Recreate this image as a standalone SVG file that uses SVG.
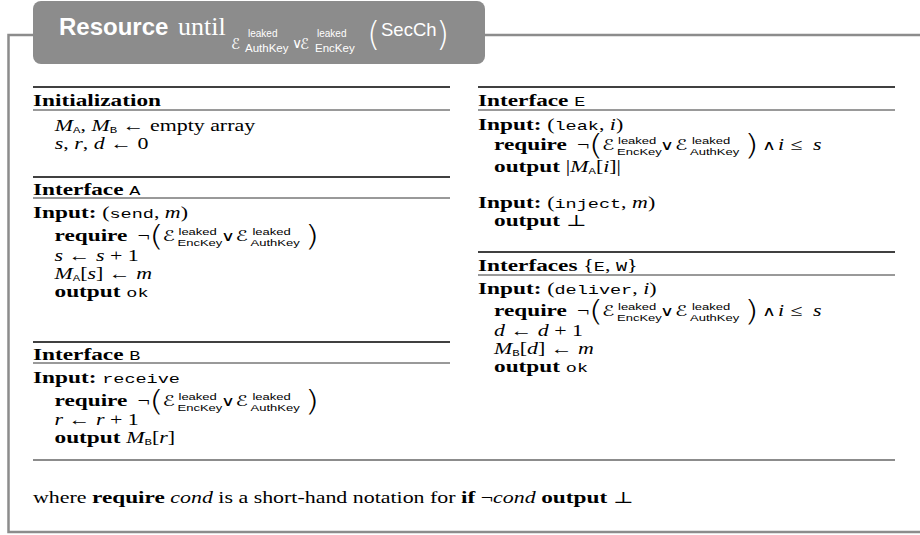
<svg xmlns="http://www.w3.org/2000/svg" width="920" height="535" viewBox="0 0 920 535">
<style>
.frame{fill:none;stroke:#8c8c8c;stroke-width:2.5}
.thick{stroke:#000;stroke-width:1.6}
.thin{stroke:#000;stroke-width:0.8}
.sep{stroke:#8c8c8c;stroke-width:2}
text{font-family:"Liberation Serif","DejaVu Serif",serif;font-size:16px;fill:#000}
.bf{font-weight:bold;font-size:17px}
.hd{font-weight:bold;font-size:17px}
.it{font-style:italic}
.tt{font-family:"Liberation Mono","DejaVu Sans Mono",monospace;font-size:13.5px}
.tts{font-family:"Liberation Mono","DejaVu Sans Mono",monospace;font-size:9px}
.cal{font-family:"DejaVu Serif","DejaVu Sans",serif;font-style:italic;font-size:15px}
.sc{font-family:"Liberation Sans","DejaVu Sans",sans-serif;font-size:9.5px}
.big{font-family:"DejaVu Sans",sans-serif;font-size:28px;font-weight:200}
.op{font-family:"DejaVu Sans",sans-serif;font-size:14px;font-weight:200}
.t-res{font-family:"Liberation Sans","DejaVu Sans",sans-serif;font-weight:bold;font-size:24px;fill:#fff}
.t-until{font-family:"Liberation Serif","DejaVu Serif",serif;font-size:26px;fill:#fff}
.t-cal{font-family:"DejaVu Serif","DejaVu Sans",serif;font-style:italic;font-size:15px;fill:#fff}
.t-sup{font-family:"Liberation Sans","DejaVu Sans",sans-serif;font-size:10px;fill:#fff}
.t-sub{font-family:"Liberation Sans","DejaVu Sans",sans-serif;font-size:11.5px;fill:#fff}
.t-or{font-family:"DejaVu Sans",sans-serif;font-size:14px;font-weight:200;fill:#fff}
.t-par{font-family:"DejaVu Sans",sans-serif;font-size:34px;font-weight:200;fill:#fff}
.t-sec{font-family:"Liberation Sans","DejaVu Sans",sans-serif;font-size:18.5px;fill:#fff}
</style>

<g id="frame">
  <path class="frame" d="M33,35 H8.5 V532 H925"/>
  <path class="frame" d="M485,35 H925"/>
</g>

<g id="title">
  <rect x="33" y="1" width="452" height="63" rx="8" fill="#8c8c8c"/>
  <text class="t-res" x="59" y="35">Resource</text>
  <text class="t-until" x="178" y="35">until</text>
  <text><tspan class="t-cal" x="231" y="49">ℰ</tspan><tspan class="t-sup" x="248" y="37">leaked</tspan><tspan class="t-sub" x="245" y="52">AuthKey</tspan><tspan class="t-or" x="292" y="48">∨</tspan><tspan class="t-cal" x="300" y="49">ℰ</tspan><tspan class="t-sup" x="317" y="37">leaked</tspan><tspan class="t-sub" x="315" y="52">EncKey</tspan></text>
  <text class="t-par" x="367" y="46">(</text>
  <text class="t-sec" x="381" y="36">SecCh</text>
  <text class="t-par" x="436" y="46">)</text>
</g>

<g id="rules">
  <line class="thick" x1="33" y1="87" x2="450" y2="87"/>
  <line class="thin" x1="33" y1="110" x2="450" y2="110"/>
  <line class="thick" x1="33" y1="177" x2="450" y2="177"/>
  <line class="thin" x1="33" y1="198" x2="450" y2="198"/>
  <line class="thick" x1="33" y1="342" x2="450" y2="342"/>
  <line class="thin" x1="33" y1="363" x2="450" y2="363"/>
  <line class="thick" x1="478" y1="87" x2="895" y2="87"/>
  <line class="thin" x1="478" y1="110" x2="895" y2="110"/>
  <line class="thick" x1="478" y1="252" x2="895" y2="252"/>
  <line class="thin" x1="478" y1="275" x2="895" y2="275"/>
  <line class="sep" x1="33" y1="460" x2="895" y2="460"/>
</g>

<g id="body" transform="scale(1.37,1)">
  <g id="init">
    <text class="hd" x="24.09" y="106">Initialization</text>
    <text x="40" y="131"><tspan class="it">M</tspan><tspan class="tts" dy="2">A</tspan><tspan dy="-2">, </tspan><tspan class="it">M</tspan><tspan class="tts" dy="2">B</tspan><tspan dy="-2"> ← empty array</tspan></text>
    <text x="40" y="149"><tspan class="it">s</tspan>, <tspan class="it">r</tspan>, <tspan class="it">d</tspan> ← 0</text>
  </g>
  <g id="ifA">
    <text x="24.09" y="195"><tspan class="hd">Interface </tspan><tspan class="tt">A</tspan></text>
    <text x="24.09" y="218"><tspan class="bf">Input: </tspan>(<tspan class="tt">send</tspan>, <tspan class="it">m</tspan>)</text>
    <g transform="translate(39.8,241)">
      <text><tspan class="bf" x="0" y="0">require</tspan><tspan x="60.6" y="0">¬</tspan><tspan class="big" x="69" y="5">(</tspan><tspan class="cal" x="78.8" y="0">ℰ</tspan><tspan class="sc" x="90.5" y="-6">leaked</tspan><tspan class="sc" x="89.8" y="4.5">EncKey</tspan><tspan class="op" x="121.5" y="0">∨</tspan><tspan class="cal" x="132.1" y="0">ℰ</tspan><tspan class="sc" x="144.5" y="-6">leaked</tspan><tspan class="sc" x="143.1" y="4.5">AuthKey</tspan><tspan class="big" x="182.5" y="5">)</tspan></text>
    </g>
    <text x="39.8" y="261"><tspan class="it">s</tspan> ← <tspan class="it">s</tspan> + 1</text>
    <text x="39.8" y="279"><tspan class="it">M</tspan><tspan class="tts" dy="2">A</tspan><tspan dy="-2">[</tspan><tspan class="it">s</tspan>] ← <tspan class="it">m</tspan></text>
    <text x="39.8" y="297"><tspan class="bf">output </tspan><tspan class="tt">ok</tspan></text>
  </g>
  <g id="ifB">
    <text x="24.09" y="360"><tspan class="hd">Interface </tspan><tspan class="tt">B</tspan></text>
    <text x="24.09" y="383"><tspan class="bf">Input: </tspan><tspan class="tt">receive</tspan></text>
    <g transform="translate(39.8,406)">
      <text><tspan class="bf" x="0" y="0">require</tspan><tspan x="60.6" y="0">¬</tspan><tspan class="big" x="69" y="5">(</tspan><tspan class="cal" x="78.8" y="0">ℰ</tspan><tspan class="sc" x="90.5" y="-6">leaked</tspan><tspan class="sc" x="89.8" y="4.5">EncKey</tspan><tspan class="op" x="121.5" y="0">∨</tspan><tspan class="cal" x="132.1" y="0">ℰ</tspan><tspan class="sc" x="144.5" y="-6">leaked</tspan><tspan class="sc" x="143.1" y="4.5">AuthKey</tspan><tspan class="big" x="182.5" y="5">)</tspan></text>
    </g>
    <text x="39.8" y="425"><tspan class="it">r</tspan> ← <tspan class="it">r</tspan> + 1</text>
    <text x="39.8" y="443"><tspan class="bf">output </tspan><tspan class="it">M</tspan><tspan class="tts" dy="2">B</tspan><tspan dy="-2">[</tspan><tspan class="it">r</tspan>]</text>
  </g>
  <g id="ifE">
    <text x="348.9" y="106"><tspan class="hd">Interface </tspan><tspan class="tt">E</tspan></text>
    <text x="348.9" y="130"><tspan class="bf">Input: </tspan>(<tspan class="tt">leak</tspan>, <tspan class="it">i</tspan>)</text>
    <g transform="translate(360.6,150)">
      <text><tspan class="bf" x="0" y="0">require</tspan><tspan x="60.6" y="0">¬</tspan><tspan class="big" x="69" y="5">(</tspan><tspan class="cal" x="78.8" y="0">ℰ</tspan><tspan class="sc" x="90.5" y="-6">leaked</tspan><tspan class="sc" x="89.8" y="4.5">EncKey</tspan><tspan class="op" x="121.5" y="0">∨</tspan><tspan class="cal" x="132.1" y="0">ℰ</tspan><tspan class="sc" x="144.5" y="-6">leaked</tspan><tspan class="sc" x="143.1" y="4.5">AuthKey</tspan><tspan class="big" x="182.5" y="5">)</tspan><tspan class="op" x="195.5" y="0">∧</tspan><tspan class="it" x="207.3" y="0">i</tspan><tspan x="216.5" y="0">≤</tspan><tspan class="it" x="232.8" y="0">s</tspan></text>
    </g>
    <text x="360.6" y="172"><tspan class="bf">output </tspan>|<tspan class="it">M</tspan><tspan class="tts" dy="2">A</tspan><tspan dy="-2">[</tspan><tspan class="it">i</tspan>]|</text>
    <text x="348.9" y="208"><tspan class="bf">Input: </tspan>(<tspan class="tt">inject</tspan>, <tspan class="it">m</tspan>)</text>
    <text x="360.6" y="226"><tspan class="bf">output </tspan>⊥</text>
  </g>
  <g id="ifEW">
    <text x="348.9" y="271"><tspan class="hd">Interfaces </tspan>{<tspan class="tt">E</tspan>, <tspan class="tt">W</tspan>}</text>
    <text x="348.9" y="294"><tspan class="bf">Input: </tspan>(<tspan class="tt">deliver</tspan>, <tspan class="it">i</tspan>)</text>
    <g transform="translate(360.6,316)">
      <text><tspan class="bf" x="0" y="0">require</tspan><tspan x="60.6" y="0">¬</tspan><tspan class="big" x="69" y="5">(</tspan><tspan class="cal" x="78.8" y="0">ℰ</tspan><tspan class="sc" x="90.5" y="-6">leaked</tspan><tspan class="sc" x="89.8" y="4.5">EncKey</tspan><tspan class="op" x="121.5" y="0">∨</tspan><tspan class="cal" x="132.1" y="0">ℰ</tspan><tspan class="sc" x="144.5" y="-6">leaked</tspan><tspan class="sc" x="143.1" y="4.5">AuthKey</tspan><tspan class="big" x="182.5" y="5">)</tspan><tspan class="op" x="195.5" y="0">∧</tspan><tspan class="it" x="207.3" y="0">i</tspan><tspan x="216.5" y="0">≤</tspan><tspan class="it" x="232.8" y="0">s</tspan></text>
    </g>
    <text x="360.6" y="336"><tspan class="it">d</tspan> ← <tspan class="it">d</tspan> + 1</text>
    <text x="360.6" y="354"><tspan class="it">M</tspan><tspan class="tts" dy="2">B</tspan><tspan dy="-2">[</tspan><tspan class="it">d</tspan>] ← <tspan class="it">m</tspan></text>
    <text x="360.6" y="372"><tspan class="bf">output </tspan><tspan class="tt">ok</tspan></text>
  </g>
  <g id="footer">
    <text x="24.09" y="503">where <tspan class="bf">require</tspan> <tspan class="it">cond</tspan> is a short-hand notation for <tspan class="bf">if</tspan> ¬<tspan class="it">cond</tspan> <tspan class="bf">output</tspan> ⊥</text>
  </g>
</g>
</svg>
